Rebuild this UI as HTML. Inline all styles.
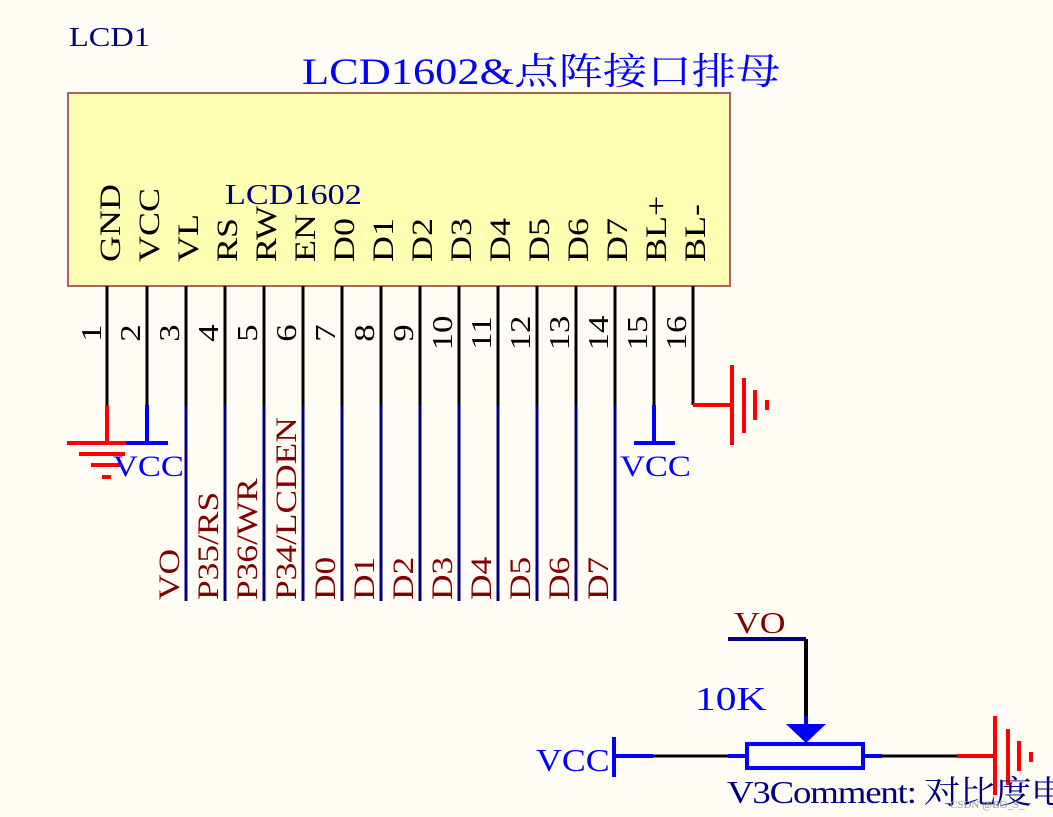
<!DOCTYPE html>
<html><head><meta charset="utf-8"><style>
html,body{margin:0;padding:0;background:#fffcf6;}
svg{display:block}
text{font-family:"Liberation Serif","Noto Serif CJK SC",serif;}
</style></head><body>
<svg width="1053" height="817" viewBox="0 0 1053 817" xmlns="http://www.w3.org/2000/svg">
<rect x="0" y="0" width="1053" height="817" fill="#fffcf6"/>
<text transform="translate(69,46) scale(1.2,1)" font-size="27" fill="#000080">LCD1</text>
<text transform="translate(302,84) scale(1.2,1)" font-size="37" fill="#0000ff">LCD1602&amp;点阵接口排母</text>
<rect x="68" y="93" width="662" height="193" fill="#ffffb4" stroke="#b06060" stroke-width="2"/>
<text transform="translate(225,204) scale(1.18,1)" font-size="29" fill="#000080">LCD1602</text>
<g font-size="30" fill="#000">
<text transform="translate(120,262) rotate(-90) scale(1.2,1)">GND</text>
<text transform="translate(159,262) rotate(-90) scale(1.2,1)">VCC</text>
<text transform="translate(198,262) rotate(-90) scale(1.2,1)">VL</text>
<text transform="translate(237,262) rotate(-90) scale(1.2,1)">RS</text>
<text transform="translate(276,262) rotate(-90) scale(1.2,1)">RW</text>
<text transform="translate(315,262) rotate(-90) scale(1.2,1)">EN</text>
<text transform="translate(354,262) rotate(-90) scale(1.2,1)">D0</text>
<text transform="translate(393,262) rotate(-90) scale(1.2,1)">D1</text>
<text transform="translate(432,262) rotate(-90) scale(1.2,1)">D2</text>
<text transform="translate(471,262) rotate(-90) scale(1.2,1)">D3</text>
<text transform="translate(510,262) rotate(-90) scale(1.2,1)">D4</text>
<text transform="translate(549,262) rotate(-90) scale(1.2,1)">D5</text>
<text transform="translate(588,262) rotate(-90) scale(1.2,1)">D6</text>
<text transform="translate(627,262) rotate(-90) scale(1.2,1)">D7</text>
<text transform="translate(666,262) rotate(-90) scale(1.2,1)">BL+</text>
<text transform="translate(705,262) rotate(-90) scale(1.2,1)">BL-</text>
</g>
<g font-size="29" fill="#000" text-anchor="middle">
<text transform="translate(101,333) rotate(-90) scale(1.2,1)">1</text>
<text transform="translate(140,333) rotate(-90) scale(1.2,1)">2</text>
<text transform="translate(179,333) rotate(-90) scale(1.2,1)">3</text>
<text transform="translate(218,333) rotate(-90) scale(1.2,1)">4</text>
<text transform="translate(257,333) rotate(-90) scale(1.2,1)">5</text>
<text transform="translate(296,333) rotate(-90) scale(1.2,1)">6</text>
<text transform="translate(335,333) rotate(-90) scale(1.2,1)">7</text>
<text transform="translate(374,333) rotate(-90) scale(1.2,1)">8</text>
<text transform="translate(413,333) rotate(-90) scale(1.2,1)">9</text>
<text transform="translate(452,333) rotate(-90) scale(1.2,1)">10</text>
<text transform="translate(491,333) rotate(-90) scale(1.2,1)">11</text>
<text transform="translate(530,333) rotate(-90) scale(1.2,1)">12</text>
<text transform="translate(569,333) rotate(-90) scale(1.2,1)">13</text>
<text transform="translate(608,333) rotate(-90) scale(1.2,1)">14</text>
<text transform="translate(647,333) rotate(-90) scale(1.2,1)">15</text>
<text transform="translate(686,333) rotate(-90) scale(1.2,1)">16</text>
</g>
<g stroke="#000" stroke-width="3">
<line x1="107" y1="286" x2="107" y2="405"/><line x1="147" y1="286" x2="147" y2="405"/>
<line x1="186" y1="286" x2="186" y2="405"/><line x1="225" y1="286" x2="225" y2="405"/>
<line x1="264" y1="286" x2="264" y2="405"/><line x1="303" y1="286" x2="303" y2="405"/>
<line x1="342" y1="286" x2="342" y2="405"/><line x1="381" y1="286" x2="381" y2="405"/>
<line x1="420" y1="286" x2="420" y2="405"/><line x1="459" y1="286" x2="459" y2="405"/>
<line x1="498" y1="286" x2="498" y2="405"/><line x1="537" y1="286" x2="537" y2="405"/>
<line x1="576" y1="286" x2="576" y2="405"/><line x1="615" y1="286" x2="615" y2="405"/>
<line x1="654" y1="286" x2="654" y2="405"/><line x1="693" y1="286" x2="693" y2="405"/>
</g>
<g stroke="#000080" stroke-width="3">
<line x1="186" y1="405" x2="186" y2="601"/><line x1="225" y1="405" x2="225" y2="601"/>
<line x1="264" y1="405" x2="264" y2="601"/><line x1="303" y1="405" x2="303" y2="601"/>
<line x1="342" y1="405" x2="342" y2="601"/><line x1="381" y1="405" x2="381" y2="601"/>
<line x1="420" y1="405" x2="420" y2="601"/><line x1="459" y1="405" x2="459" y2="601"/>
<line x1="498" y1="405" x2="498" y2="601"/><line x1="537" y1="405" x2="537" y2="601"/>
<line x1="576" y1="405" x2="576" y2="601"/><line x1="615" y1="405" x2="615" y2="601"/>
</g>
<g font-size="30" fill="#800000">
<text transform="translate(179,600) rotate(-90) scale(1.18,1)">VO</text>
<text transform="translate(218,600) rotate(-90) scale(1.18,1)">P35/RS</text>
<text transform="translate(257,600) rotate(-90) scale(1.18,1)">P36/WR</text>
<text transform="translate(296,600) rotate(-90) scale(1.18,1)">P34/LCDEN</text>
<text transform="translate(335,600) rotate(-90) scale(1.18,1)">D0</text>
<text transform="translate(374,600) rotate(-90) scale(1.18,1)">D1</text>
<text transform="translate(413,600) rotate(-90) scale(1.18,1)">D2</text>
<text transform="translate(452,600) rotate(-90) scale(1.18,1)">D3</text>
<text transform="translate(491,600) rotate(-90) scale(1.18,1)">D4</text>
<text transform="translate(530,600) rotate(-90) scale(1.18,1)">D5</text>
<text transform="translate(569,600) rotate(-90) scale(1.18,1)">D6</text>
<text transform="translate(608,600) rotate(-90) scale(1.18,1)">D7</text>
</g>
<g stroke="#ff0000" stroke-width="4">
<line x1="107" y1="405" x2="107" y2="443"/>
<line x1="67" y1="443" x2="127" y2="443"/>
<line x1="79" y1="454" x2="125" y2="454"/>
<line x1="91" y1="465" x2="120" y2="465"/>
<line x1="102" y1="477" x2="111" y2="477"/>
</g>
<g stroke="#0000ff" stroke-width="4">
<line x1="147" y1="405" x2="147" y2="443"/>
<line x1="126" y1="443" x2="168" y2="443"/>
<line x1="654" y1="405" x2="654" y2="443"/>
<line x1="634" y1="443" x2="675" y2="443"/>
</g>
<text transform="translate(113,476) scale(1.15,1)" font-size="30" fill="#0000ff">VCC</text>
<text transform="translate(620,476) scale(1.15,1)" font-size="30" fill="#0000ff">VCC</text>
<g stroke="#ff0000" stroke-width="4">
<line x1="693" y1="405" x2="732" y2="405"/>
<line x1="732" y1="365" x2="732" y2="445"/>
<line x1="744" y1="378" x2="744" y2="433"/>
<line x1="755" y1="390" x2="755" y2="420"/>
<line x1="767" y1="400" x2="767" y2="410"/>
</g>
<text transform="translate(734,633) scale(1.15,1)" font-size="31" fill="#800000">VO</text>
<polyline points="728,639 806,639" stroke="#000080" stroke-width="4" fill="none"/>
<line x1="806" y1="639" x2="806" y2="718" stroke="#000" stroke-width="4"/>
<line x1="806" y1="716" x2="806" y2="726" stroke="#0000ff" stroke-width="4"/>
<polygon points="786,724 826,724 806,743" fill="#0000ff"/>
<text transform="translate(695,710) scale(1.22,1)" font-size="34" fill="#0000ff">10K</text>
<rect x="747" y="744" width="116" height="24" fill="none" stroke="#0000ff" stroke-width="4"/>
<line x1="614" y1="737" x2="614" y2="777" stroke="#0000ff" stroke-width="4"/>
<line x1="614" y1="756" x2="653" y2="756" stroke="#0000ff" stroke-width="4"/>
<line x1="653" y1="756" x2="728" y2="756" stroke="#000" stroke-width="3"/>
<line x1="728" y1="756" x2="747" y2="756" stroke="#0000ff" stroke-width="4"/>
<line x1="863" y1="756" x2="882" y2="756" stroke="#0000ff" stroke-width="4"/>
<line x1="882" y1="756" x2="958" y2="756" stroke="#000" stroke-width="3"/>
<g stroke="#ff0000" stroke-width="4">
<line x1="957" y1="756" x2="995" y2="756"/>
<line x1="995" y1="716" x2="995" y2="795"/>
<line x1="1008" y1="729" x2="1008" y2="785"/>
<line x1="1019" y1="741" x2="1019" y2="771"/>
<line x1="1031" y1="752" x2="1031" y2="762"/>
</g>
<text transform="translate(536,771) scale(1.12,1)" font-size="32" fill="#0000ff">VCC</text>
<text transform="translate(727,803) scale(1.15,1)" font-size="32" fill="#000080" letter-spacing="-1">V3Comment: 对比度电</text>
<text x="950" y="808" font-size="11" fill="#999" font-family="Liberation Sans,sans-serif">CSDN @BO_S_</text>
</svg>
</body></html>
